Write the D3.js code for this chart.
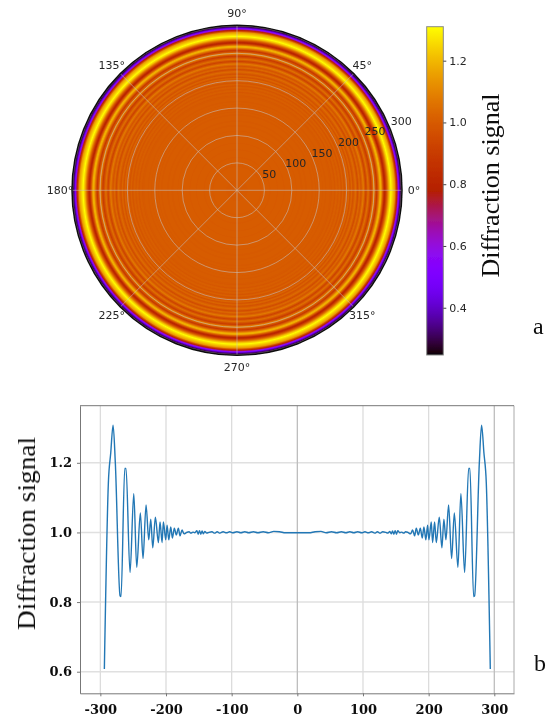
<!DOCTYPE html>
<html>
<head>
<meta charset="utf-8">
<script src="https://cdn.jsdelivr.net/npm/d3@7"></script>
<style>
html, body { margin: 0; padding: 0; background: #fff; }
svg { display: block; }
</style>
</head>
<body>
<svg id="fig" width="553" height="722"></svg>
<script>
// radial diffraction profile (positive half, curve is symmetric)
var radius = [0, 8, 18, 27, 36, 44, 52, 60, 67, 74, 80, 86, 92, 98, 103, 108, 113, 118, 122, 126, 130, 135, 138,
    141, 143, 145, 147, 149, 151, 153, 156, 159, 162, 165, 168.4, 172.5, 175.6, 178.6, 181.2, 184.3, 187.3, 190.3,
    192.8, 195.8, 198.4, 200.4, 204, 206, 209.1, 211.6, 216.2, 220.2, 223.2, 226.3, 230.4, 235, 239.1, 244.6, 249.1,
    254.8, 260.9, 262.8, 268.5, 270, 277.2, 280.6, 284.2, 287.8, 293.9];
var signal = [0.999, 0.999, 0.999, 1.002, 1.003, 0.999, 1.002, 0.999, 1.002, 0.999, 1.002, 0.999, 1.002, 0.999, 1.002,
    0.999, 1.002, 0.998, 1.002, 0.998, 1.002, 1.0, 0.998,
    1.003, 0.996, 1.004, 0.995, 1.005, 0.995, 1.005, 0.999, 1.001, 0.998, 1.002, 1.0, 0.996, 1.007, 0.99, 1.012, 0.993, 1.012, 0.984,
    1.016, 0.979, 1.021, 0.979, 1.03, 0.971, 1.03, 0.971, 1.044, 0.956, 1.038, 0.979, 1.079, 0.925, 1.056, 0.9, 1.111,
    0.885, 1.184, 1.184, 0.816, 0.818, 1.2, 1.308, 1.228, 1.142, 0.608];
// the heatmap in panel a runs a bit further out than the curve
var edgeRadius = [296.5, 299, 301];
var edgeSignal = [0.38, 0.27, 0.25];

var radialTicks = [50, 100, 150, 200, 250, 300];
var angleTicks = [0, 45, 90, 135, 180, 225, 270, 315];
var colorTicks = [0.4, 0.6, 0.8, 1.0, 1.2];
var xTicks = [-300, -200, -100, 0, 100, 200, 300];
var yTicks = [0.6, 0.8, 1.0, 1.2];

var root = d3.select("#fig");
var defs = root.append("defs");
// the reference is a soft screenshot
defs.append("filter").attr("id", "soft")
    .attr("filterUnits", "userSpaceOnUse").attr("x", 0).attr("y", 0).attr("width", 553).attr("height", 722)
    .append("feGaussianBlur").attr("stdDeviation", 0.45);
var svg = root.append("g").attr("filter", "url(#soft)");
var sansFont = "'DejaVu Sans', sans-serif";
var serifFont = "'DejaVu Serif', serif";

// matplotlib "gnuplot" colormap
function gnuplot(t) {
    var r = Math.sqrt(t), g = t * t * t, b = Math.max(0, Math.sin(2 * Math.PI * t));
    return d3.rgb(255 * r, 255 * g, 255 * b).formatRgb();
}
var colorNorm = d3.scaleLinear().domain([0.247, 1.31]).range([0, 1]).clamp(true);
function signalColor(v) {
    return gnuplot(colorNorm(v));
}

/* ---- panel a: polar heatmap ---- */
var cx = 237, cy = 190.3;
var rScale = d3.scaleLinear().domain([0, 301]).range([0, 165]);
var polarR = radius.concat(edgeRadius);
var polarS = signal.concat(edgeSignal);

var radial = defs.append("radialGradient").attr("id", "rings")
    .attr("gradientUnits", "userSpaceOnUse")
    .attr("cx", cx).attr("cy", cy).attr("r", rScale(301));
polarR.forEach(function (r, i) {
    if (i === polarR.length - 1) {
        radial.append("stop").attr("offset", r / 301).attr("stop-color", signalColor(polarS[i]));
        return;
    }
    // split each segment so the colormap is followed between read values
    d3.range(8).forEach(function (k) {
        var f = k / 8;
        var rr = r + (polarR[i + 1] - r) * f;
        var ss = polarS[i] + (polarS[i + 1] - polarS[i]) * f;
        radial.append("stop").attr("offset", rr / 301).attr("stop-color", signalColor(ss));
    });
});

var polar = svg.append("g");
polar.append("circle").attr("cx", cx).attr("cy", cy).attr("r", rScale(301)).attr("fill", "url(#rings)");

polar.selectAll("circle.grid").data(radialTicks).enter().append("circle")
    .attr("class", "grid")
    .attr("cx", cx).attr("cy", cy).attr("r", function (d) { return rScale(d); })
    .attr("fill", "none").attr("stroke", "#c4c4c4").attr("stroke-opacity", 0.55).attr("stroke-width", 1);

polar.selectAll("line.spoke").data(angleTicks).enter().append("line")
    .attr("class", "spoke")
    .attr("x1", cx).attr("y1", cy)
    .attr("x2", function (d) { return cx + rScale(301) * Math.cos(d * Math.PI / 180); })
    .attr("y2", function (d) { return cy - rScale(301) * Math.sin(d * Math.PI / 180); })
    .attr("stroke", "#c4c4c4").attr("stroke-opacity", 0.55).attr("stroke-width", 1);

polar.append("circle").attr("cx", cx).attr("cy", cy).attr("r", rScale(301))
    .attr("fill", "none").attr("stroke", "#111").attr("stroke-width", 1.5);

polar.selectAll("text.angle").data(angleTicks).enter().append("text")
    .attr("class", "angle")
    .attr("x", function (d) { return cx + 177 * Math.cos(d * Math.PI / 180); })
    .attr("y", function (d) { return cy - 177 * Math.sin(d * Math.PI / 180); })
    .attr("dy", "0.35em").attr("text-anchor", "middle")
    .attr("font-family", sansFont).attr("font-size", 11).attr("fill", "#262626")
    .text(function (d) { return d + "\u00b0"; });

var labelAngle = 22 * Math.PI / 180;
polar.selectAll("text.rlabel").data(radialTicks).enter().append("text")
    .attr("class", "rlabel")
    .attr("x", function (d) { return cx + 5.9 + 1.039 * rScale(d) * Math.cos(labelAngle); })
    .attr("y", function (d) { return cy - 5.6 - 1.039 * rScale(d) * Math.sin(labelAngle); })
    .attr("dy", "0.35em").attr("text-anchor", "middle")
    .attr("font-family", sansFont).attr("font-size", 11).attr("fill", "#262626")
    .text(function (d) { return d; });

/* ---- colorbar ---- */
var barY = d3.scaleLinear().domain(colorNorm.domain()).range([355, 26.7]);
var barGrad = defs.append("linearGradient").attr("id", "bar")
    .attr("x1", 0).attr("y1", 1).attr("x2", 0).attr("y2", 0);
d3.range(0, 1.001, 0.01).forEach(function (t) {
    barGrad.append("stop").attr("offset", t).attr("stop-color", gnuplot(t));
});
svg.append("rect").attr("x", 426.7).attr("y", 26.7).attr("width", 16.6).attr("height", 328.3)
    .attr("fill", "url(#bar)").attr("stroke", "#8a8a8a").attr("stroke-width", 1);

var barAxis = svg.append("g").attr("transform", "translate(443.3,0)")
    .call(d3.axisRight(barY).tickValues(colorTicks).tickSize(3).tickPadding(3).tickFormat(d3.format(".1f")));
barAxis.select(".domain").remove();
barAxis.selectAll("line").attr("stroke", "#444");
barAxis.selectAll("text").attr("font-family", sansFont).attr("font-size", 11).attr("fill", "#262626");

svg.append("text")
    .attr("transform", "translate(499,185.5) rotate(-90)")
    .attr("text-anchor", "middle")
    .attr("font-family", "'Liberation Serif', serif").attr("font-size", 25).attr("fill", "#111")
    .attr("textLength", 184).attr("lengthAdjust", "spacingAndGlyphs")
    .text("Diffraction signal");

svg.append("text").attr("x", 533).attr("y", 334)
    .attr("font-family", "'Liberation Serif', serif").attr("font-size", 24).attr("fill", "#111").text("a");

/* ---- panel b: line profile ---- */
var left = 80, right = 514, top_ = 405.7, bottom = 693.3;
var x = d3.scaleLinear().domain([-331, 330]).range([left, right]);
var y = d3.scaleLinear().domain([0.538, 1.364]).range([bottom, top_]);

var plot = svg.append("g");
plot.selectAll("line.ygrid").data(yTicks).enter().append("line")
    .attr("class", "ygrid")
    .attr("x1", left).attr("x2", right)
    .attr("y1", function (d) { return y(d); }).attr("y2", function (d) { return y(d); })
    .attr("stroke", "#e0e0e0").attr("stroke-width", 1.5);
plot.selectAll("line.xgrid").data(xTicks).enter().append("line")
    .attr("class", "xgrid")
    .attr("y1", top_).attr("y2", bottom)
    .attr("x1", function (d) { return x(d); }).attr("x2", function (d) { return x(d); })
    .attr("stroke", function (d) { return d === 0 || d === 300 ? "#bdbdbd" : "#dcdcdc"; })
    .attr("stroke-width", 1.3);

// negative side first, then the read half
var profile = radius.map(function (r, i) { return [-r, signal[i]]; }).reverse()
    .concat(radius.map(function (r, i) { return [r, signal[i]]; }));
var line = d3.line().curve(d3.curveMonotoneX)
    .x(function (d) { return x(d[0]); }).y(function (d) { return y(d[1]); });
plot.append("path").datum(profile)
    .attr("d", line)
    .attr("fill", "none").attr("stroke", "#2277b5").attr("stroke-width", 1.4).attr("stroke-linejoin", "round");

plot.append("line").attr("x1", right).attr("x2", right).attr("y1", top_).attr("y2", bottom)
    .attr("stroke", "#aaa").attr("stroke-width", 1);
plot.append("line").attr("x1", left).attr("x2", right).attr("y1", top_).attr("y2", top_)
    .attr("stroke", "#777").attr("stroke-width", 1);

var xAxis = svg.append("g").attr("transform", "translate(0," + bottom + ")")
    .call(d3.axisBottom(x).tickValues(xTicks).tickSize(3).tickSizeOuter(0).tickPadding(8).tickFormat(function (d) { return String(d); }));
var yAxis = svg.append("g").attr("transform", "translate(" + left + ",0)")
    .call(d3.axisLeft(y).tickValues(yTicks).tickSize(3).tickSizeOuter(0).tickPadding(5).tickFormat(d3.format(".1f")));
[xAxis, yAxis].forEach(function (a) {
    a.select(".domain").attr("stroke", "#777");
    a.selectAll("line").attr("stroke", "#777");
    a.selectAll("text").attr("font-family", serifFont).attr("font-weight", "bold")
        .attr("font-size", 13).attr("fill", "#111");
});

svg.append("text")
    .attr("transform", "translate(35,533.5) rotate(-90)")
    .attr("text-anchor", "middle")
    .attr("font-family", "'Liberation Serif', serif").attr("font-size", 26).attr("fill", "#111")
    .attr("textLength", 193).attr("lengthAdjust", "spacingAndGlyphs")
    .text("Diffraction signal");

svg.append("text").attr("x", 534).attr("y", 671)
    .attr("font-family", "'Liberation Serif', serif").attr("font-size", 24).attr("fill", "#111").text("b");
</script>
</body>
</html>
